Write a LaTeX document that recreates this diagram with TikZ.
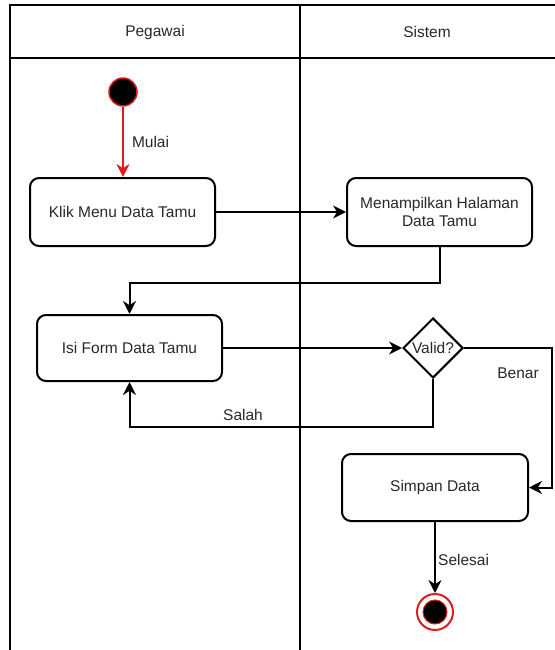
\documentclass[tikz,border=0pt]{standalone}
\usepackage{fontspec}
\setmainfont{Liberation Sans}
\usetikzlibrary{arrows.meta,shapes.geometric}
\definecolor{arrred}{RGB}{222,30,30}
\definecolor{txt}{RGB}{40,40,40}
\begin{document}
\begin{tikzpicture}[x=1pt,y=-1pt,
  act/.style={draw, line width=2pt, rounded corners=9pt, align=center, text=txt,
    font=\fontsize{15.5}{18}\selectfont, inner sep=0pt},
  lane/.style={line width=2.5pt},
  flow/.style={line width=2pt, -{Stealth[length=13pt,width=13pt]}},
  lbl/.style={font=\fontsize{15.5}{18}\selectfont, inner sep=0pt, text=txt}
]
\useasboundingbox (0,0) rectangle (554,650);
% swimlanes
\draw[lane] (10,651) -- (10,5) -- (556,5);
\draw[lane] (10,58) -- (556,58);
\draw[lane] (300,5) -- (300,651);
\node[lbl] (hp) at (155,32) {Pegawai};
\node[lbl] (hs) at (427,32) {Sistem};
% nodes
\node[circle, fill=black, draw=arrred, line width=1.5pt, minimum size=28pt, inner sep=0pt] (start) at (123,92) {};
\node[act, minimum width=185pt, minimum height=68pt] (klik) at (122.5,212) {Klik Menu Data Tamu};
\node[act, minimum width=185pt, minimum height=68pt] (men) at (439.5,212) {Menampilkan Halaman\\Data Tamu};
\node[act, minimum width=185pt, minimum height=66pt] (isi) at (129.5,348) {Isi Form Data Tamu};
\node[diamond, draw, line width=2pt, minimum width=60pt, minimum height=60pt, inner sep=0pt] (dv) at (433,348) {};
\node[lbl] (dvt) at (433,348) {Valid?};
\node[act, minimum width=186pt, minimum height=67pt] (simpan) at (435,487.5) {Simpan Data};
\node[circle, draw=arrred, line width=2pt, minimum size=36pt, inner sep=0pt] (end) at (435,612) {};
\node[circle, fill=black, draw=arrred, line width=1pt, minimum size=24pt, inner sep=0pt] (endin) at (end) {};
% helper coordinates
\coordinate (c1) at (0,283);
\coordinate (c2) at (0,427);
\coordinate (c3) at (552,0);
% connectors
\draw[flow, arrred] (start) -- (start |- klik.north) node[lbl, midway, right=8pt] (mulai) {Mulai};
\draw[flow] (klik) -- (men);
\draw[flow] (men.south) -- (men.south |- c1) -| (isi.north);
\draw[flow] (isi) -- (dv.west);
\draw[flow] (dv.south) -- (dv.south |- c2) -| (isi.south);
\node[lbl] (salah) at (243,415) {Salah};
\draw[flow] (dv.east) -- (dv.east -| c3) |- (simpan.east);
\node[lbl] (benar) at (518,373) {Benar};
\draw[flow] (simpan) -- (end);
\node[lbl, anchor=west] (selesai) at (438,560) {Selesai};
\end{tikzpicture}
\end{document}
